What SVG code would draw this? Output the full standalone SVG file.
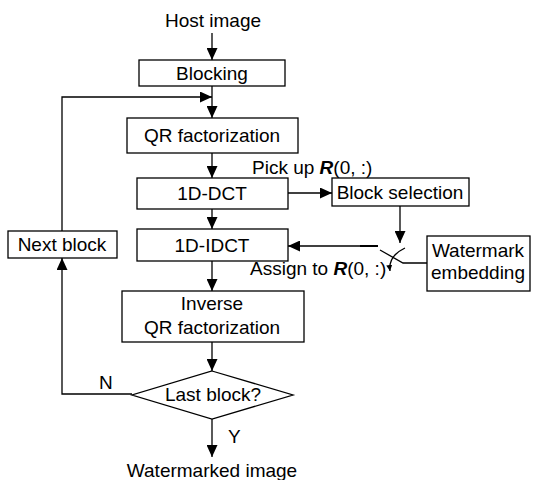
<svg xmlns="http://www.w3.org/2000/svg" width="535" height="480" viewBox="0 0 535 480">
<style>
.box{fill:#fff;stroke:#000;stroke-width:1.3}
.ln{fill:none;stroke:#000;stroke-width:1.3}
text{font-family:"Liberation Sans",Arial,sans-serif;font-size:19px;fill:#000}
.c{text-anchor:middle}
</style>
<defs>
<marker id="ah" viewBox="0 0 12 11" refX="12" refY="5.5" markerWidth="12" markerHeight="11" markerUnits="userSpaceOnUse" orient="auto">
<path d="M0,0 L12,5.5 L0,11 z" fill="#000"/>
</marker>
<marker id="ahs" viewBox="0 0 10 10" refX="10" refY="5" markerWidth="6" markerHeight="6" markerUnits="userSpaceOnUse" orient="auto">
<path d="M0,0 L10,5 L0,10 z" fill="#000"/>
</marker>
</defs>
<g id="connectors">
<line class="ln" x1="212" y1="33" x2="212" y2="60" marker-end="url(#ah)"/>
<line class="ln" x1="212" y1="86" x2="212" y2="118" marker-end="url(#ah)"/>
<polyline class="ln" points="62,231 62,97 212,97" marker-end="url(#ah)"/>
<line class="ln" x1="212" y1="153" x2="212" y2="178" marker-end="url(#ah)"/>
<line class="ln" x1="288" y1="193" x2="332" y2="193" marker-end="url(#ah)"/>
<line class="ln" x1="212" y1="209" x2="212" y2="229" marker-end="url(#ah)"/>
<line class="ln" x1="400" y1="206" x2="400" y2="243" marker-end="url(#ah)"/>
<line class="ln" x1="378" y1="246" x2="288" y2="246" marker-end="url(#ah)"/>
<line x1="360" y1="246" x2="378" y2="246" stroke="#000" stroke-width="2"/>
<polyline class="ln" points="380,250 403,263 427,263"/>
<path class="ln" d="M405,248 Q388,256 390,271" marker-end="url(#ahs)"/>
<line class="ln" x1="212" y1="261" x2="212" y2="291" marker-end="url(#ah)"/>
<line class="ln" x1="212" y1="342" x2="212" y2="371" marker-end="url(#ah)"/>
<polyline class="ln" points="132,394 62,394 62,258" marker-end="url(#ah)"/>
<line class="ln" x1="212" y1="419" x2="212" y2="457" marker-end="url(#ah)"/>
</g>
<g id="host"><text class="c" x="213" y="27">Host image</text></g>
<g id="blocking"><rect class="box" x="139" y="60" width="146" height="26"/><text class="c" x="212" y="80">Blocking</text></g>
<g id="qr"><rect class="box" x="127" y="118" width="171" height="35"/><text class="c" x="212" y="142">QR factorization</text></g>
<g id="pickup"><text x="252" y="174">Pick up <tspan font-weight="bold" font-style="italic">R</tspan>(0, :)</text></g>
<g id="dct"><rect class="box" x="137" y="178" width="151" height="31"/><text class="c" x="212" y="200">1D-DCT</text></g>
<g id="blocksel"><rect class="box" x="332" y="178" width="137" height="28"/><text class="c" x="400" y="199">Block selection</text></g>
<g id="idct"><rect class="box" x="137" y="229" width="151" height="32"/><text class="c" x="212" y="252">1D-IDCT</text></g>
<g id="nextblock"><rect class="box" x="8" y="231" width="109" height="27"/><text class="c" x="62" y="251">Next block</text></g>
<g id="wm"><rect class="box" x="427" y="236" width="103" height="55"/><text class="c" x="478" y="257">Watermark</text><text class="c" x="478" y="279">embedding</text></g>
<g id="assign"><text x="250" y="275">Assign to <tspan font-weight="bold" font-style="italic">R</tspan>(0, :)</text></g>
<g id="inverse"><rect class="box" x="122" y="291" width="182" height="51"/><text class="c" x="212" y="310">Inverse</text><text class="c" x="212" y="334">QR factorization</text></g>
<g id="last"><polygon class="box" points="212,371 293,395 212,419 132,395"/><text class="c" x="213" y="401">Last block?</text></g>
<g id="labels"><text x="99" y="389">N</text><text x="228" y="443">Y</text></g>
<g id="out"><text class="c" x="212" y="477">Watermarked image</text></g>
</svg>
